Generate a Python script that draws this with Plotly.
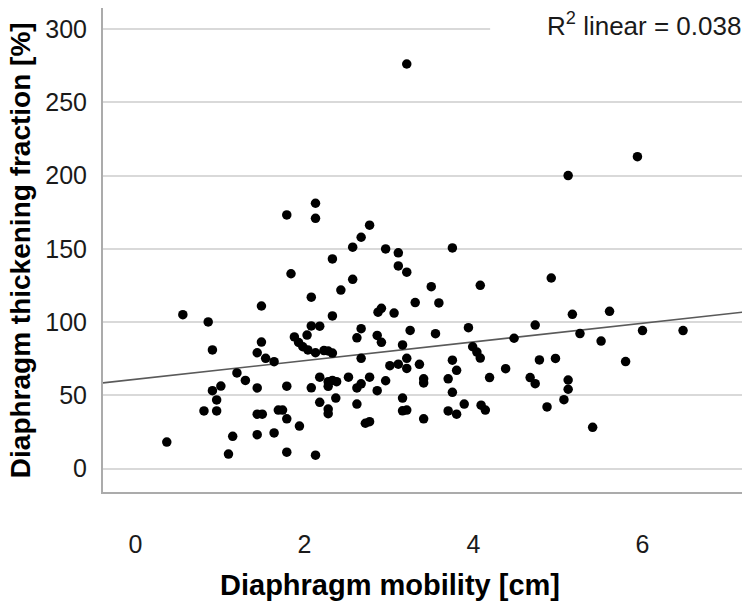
import numpy as np
import plotly.graph_objects as go

# Diaphragm mobility [cm] and thickening fraction [%]
mobility_cm = [
    0.37, 0.56, 0.86, 0.91, 1.01, 0.91, 0.96, 0.81, 0.96, 1.15,
    1.10, 1.20, 1.30, 1.44, 1.44, 1.49, 1.49, 1.54, 1.64, 1.44,
    1.50, 1.69, 1.74, 1.79, 1.44, 1.64, 1.79, 1.94, 1.79, 1.79,
    1.84, 1.88, 1.93, 1.98, 2.04, 2.03, 2.08, 2.18, 2.08, 2.13,
    2.13, 2.33, 2.33, 2.43, 2.13, 2.23, 2.28, 2.33, 2.08, 2.18,
    2.28, 2.33, 2.38, 2.28, 2.52, 2.37, 2.18, 2.28, 2.28, 2.13,
    2.77, 2.67, 2.57, 2.96, 3.11, 3.75, 3.11, 3.21, 2.57, 3.50,
    4.08, 3.31, 3.59, 2.91, 2.87, 3.06, 2.67, 2.62, 2.86, 2.91,
    3.25, 3.55, 3.94, 3.16, 3.99, 4.04, 4.08, 2.67, 3.21, 3.01,
    3.11, 3.21, 3.36, 3.75, 3.80, 2.67, 2.62, 2.77, 2.96, 2.86,
    3.41, 3.41, 3.70, 3.75, 2.62, 3.16, 3.16, 3.21, 3.41, 3.70,
    3.80, 3.89, 2.72, 2.77, 3.21,
    4.09, 4.14, 4.19, 4.38, 4.48, 4.73, 4.67, 4.73, 4.78, 4.87,
    4.92, 4.97, 5.12, 5.17, 5.61, 5.26, 5.51, 5.12, 5.12, 5.07,
    5.41, 5.80, 6.00, 6.48, 5.94,
]
thickening_pct = [
    18.2, 105.1, 100.1, 81.0, 56.4, 53.2, 46.9, 39.4, 39.4, 22.1,
    10.0, 65.3, 60.2, 55.1, 79.1, 86.4, 111.0, 75.3, 73.0, 37.2,
    37.2, 40.0, 40.0, 34.0, 23.2, 24.4, 11.3, 29.1, 56.3, 173.1,
    133.0, 89.9, 86.1, 83.2, 81.0, 91.2, 97.4, 97.2, 117.0, 181.1,
    170.8, 143.1, 104.2, 121.9, 79.1, 80.6, 80.3, 78.9, 55.2, 62.4,
    59.4, 60.2, 59.4, 56.2, 62.4, 48.2, 45.3, 40.7, 37.5, 9.2,
    166.1, 157.9, 151.1, 149.9, 147.3, 150.6, 138.3, 134.1, 129.2, 124.2,
    125.1, 113.3, 113.1, 109.4, 106.8, 106.2, 95.5, 89.3, 90.9, 86.2,
    94.3, 92.1, 96.2, 84.4, 83.2, 79.6, 75.5, 75.3, 75.3, 70.3,
    71.3, 68.4, 71.2, 74.0, 67.1, 57.9, 55.1, 62.4, 60.0, 53.2,
    61.3, 58.5, 61.3, 52.1, 44.1, 48.2, 39.5, 40.0, 34.0, 39.4,
    37.2, 44.1, 31.0, 32.1, 276.1,
    43.3, 40.0, 62.2, 68.2, 89.0, 98.0, 62.2, 58.0, 74.2, 42.1,
    130.1, 75.2, 200.0, 105.3, 107.4, 92.2, 87.1, 60.5, 54.2, 47.1,
    28.2, 73.1, 94.2, 94.2, 212.9,
]

x_ticks = [0, 2, 4, 6]
y_ticks = [0, 50, 100, 150, 200, 250, 300]
x_range = [-0.385, 7.213]
y_range = [-15.9, 314.3]
r2_label = "R<sup>2</sup> linear = 0.038"

FONT = "Liberation Sans, Arial, sans-serif"

# least squares fit line across the whole axis
slope, intercept = np.polyfit(mobility_cm, thickening_pct, 1)
fit_x = np.array(x_range)
fit_y = intercept + slope * fit_x

fig = go.Figure()
fig.add_trace(go.Scatter(
    x=fit_x, y=fit_y, mode="lines",
    line=dict(color="#5a5a5a", width=1.6),
    hoverinfo="skip", showlegend=False,
))
fig.add_trace(go.Scatter(
    x=mobility_cm, y=thickening_pct, mode="markers",
    marker=dict(color="black", size=9.5, line=dict(width=0)),
    showlegend=False,
))

# white box behind the R² label hides the top gridline
fig.add_shape(type="rect", xref="paper", yref="paper",
              x0=0.603, x1=1.0, y0=0.924, y1=1.02,
              fillcolor="white", line=dict(width=0), layer="above")

fig.add_annotation(text=r2_label, xref="paper", yref="paper",
                   x=0.997, y=0.965, xanchor="right", yanchor="middle",
                   showarrow=False, font=dict(family=FONT, size=26, color="#1a1a1a"))
fig.add_annotation(text="Diaphragm mobility [cm]", xref="paper", yref="paper",
                   x=0.447, y=-0.192, xanchor="center", yanchor="middle",
                   showarrow=False,
                   font=dict(family=FONT, size=29, color="black", weight="bold"))
fig.add_annotation(text="Diaphragm thickening fraction [%]", xref="paper", yref="paper",
                   x=-0.129, y=0.5, xanchor="center", yanchor="middle",
                   textangle=-90, showarrow=False,
                   font=dict(family=FONT, size=28, color="black", weight="bold"))

fig.update_xaxes(
    range=x_range, tickvals=x_ticks, showgrid=False, zeroline=False,
    showline=True, linecolor="#ababab", linewidth=2,
    ticks="", ticklabelstandoff=29,
    tickfont=dict(family=FONT, size=25, color="#1a1a1a"),
)
fig.update_yaxes(
    range=y_range, tickvals=y_ticks, showgrid=True, gridcolor="#d9d9d9", gridwidth=2,
    zeroline=False, showline=True, linecolor="#ababab", linewidth=2,
    ticks="", ticklabelstandoff=9,
    tickfont=dict(family=FONT, size=25, color="#1a1a1a"),
)
# the page body adds an 8px offset, so the figure is 8px smaller each way
fig.update_layout(
    width=742, height=603,
    margin=dict(l=95, r=5, t=0, b=119),
    plot_bgcolor="white", paper_bgcolor="white",
    font=dict(family=FONT),
)

fig.write_html("out.html")
